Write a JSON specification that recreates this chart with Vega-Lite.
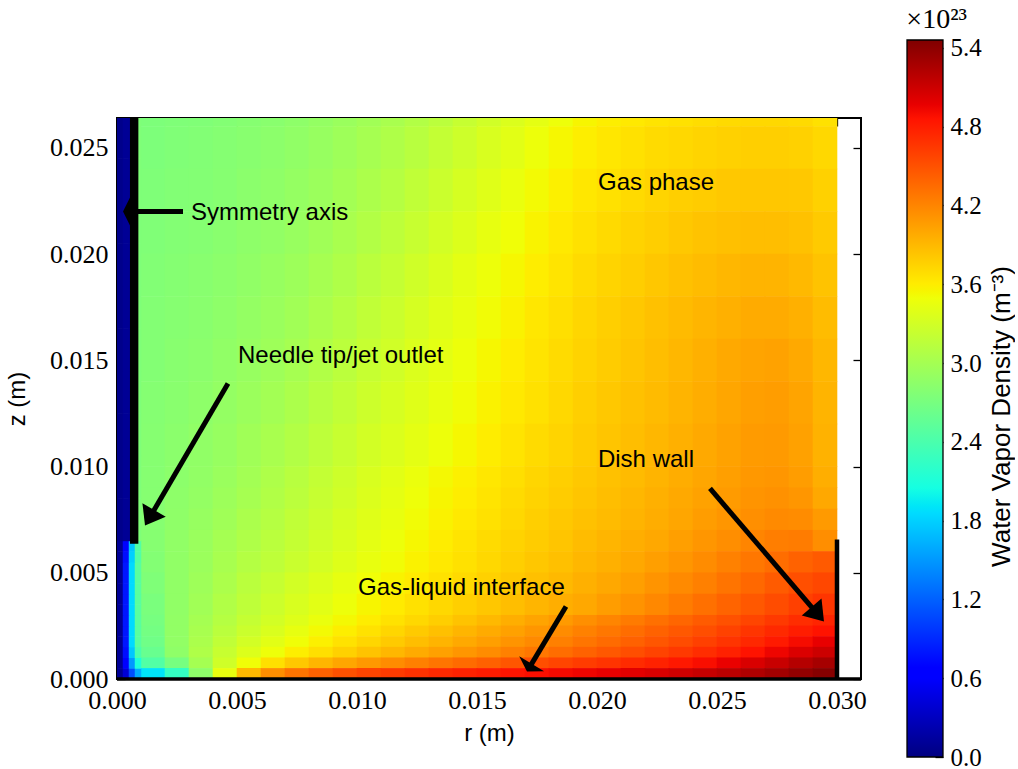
{
  "$schema": "https://vega.github.io/schema/vega-lite/v6.json",
  "background": "white",
  "padding": {"left": 4, "top": 5, "right": 0, "bottom": 0},
  "bounds": "flush",
  "center": true,
  "spacing": 46,
  "datasets": {
    "upper": [
      {"r":0.0015,"z":0.027,"d":2.74},{"r":0.0025,"z":0.027,"d":2.75},{"r":0.0035,"z":0.027,"d":2.76},{"r":0.0045,"z":0.027,"d":2.78},{"r":0.0055,"z":0.027,"d":2.80},{"r":0.0065,"z":0.027,"d":2.82},{"r":0.0075,"z":0.027,"d":2.85},{"r":0.0085,"z":0.027,"d":2.89},{"r":0.0095,"z":0.027,"d":2.93},{"r":0.0105,"z":0.027,"d":2.98},{"r":0.0115,"z":0.027,"d":3.03},{"r":0.0125,"z":0.027,"d":3.09},{"r":0.0135,"z":0.027,"d":3.15},{"r":0.0145,"z":0.027,"d":3.22},{"r":0.0155,"z":0.027,"d":3.29},{"r":0.0165,"z":0.027,"d":3.36},{"r":0.0175,"z":0.027,"d":3.43},{"r":0.0185,"z":0.027,"d":3.49},{"r":0.0195,"z":0.027,"d":3.55},{"r":0.0205,"z":0.027,"d":3.59},{"r":0.0215,"z":0.027,"d":3.62},{"r":0.0225,"z":0.027,"d":3.65},{"r":0.0235,"z":0.027,"d":3.67},{"r":0.0245,"z":0.027,"d":3.69},{"r":0.0255,"z":0.027,"d":3.71},{"r":0.0265,"z":0.027,"d":3.72},{"r":0.0275,"z":0.027,"d":3.72},{"r":0.0285,"z":0.027,"d":3.71},{"r":0.0295,"z":0.027,"d":3.67},
      {"r":0.0015,"z":0.025,"d":2.74},{"r":0.0025,"z":0.025,"d":2.76},{"r":0.0035,"z":0.025,"d":2.77},{"r":0.0045,"z":0.025,"d":2.79},{"r":0.0055,"z":0.025,"d":2.81},{"r":0.0065,"z":0.025,"d":2.84},{"r":0.0075,"z":0.025,"d":2.87},{"r":0.0085,"z":0.025,"d":2.91},{"r":0.0095,"z":0.025,"d":2.96},{"r":0.0105,"z":0.025,"d":3.01},{"r":0.0115,"z":0.025,"d":3.07},{"r":0.0125,"z":0.025,"d":3.13},{"r":0.0135,"z":0.025,"d":3.20},{"r":0.0145,"z":0.025,"d":3.27},{"r":0.0155,"z":0.025,"d":3.34},{"r":0.0165,"z":0.025,"d":3.41},{"r":0.0175,"z":0.025,"d":3.48},{"r":0.0185,"z":0.025,"d":3.54},{"r":0.0195,"z":0.025,"d":3.59},{"r":0.0205,"z":0.025,"d":3.63},{"r":0.0215,"z":0.025,"d":3.67},{"r":0.0225,"z":0.025,"d":3.70},{"r":0.0235,"z":0.025,"d":3.72},{"r":0.0245,"z":0.025,"d":3.74},{"r":0.0255,"z":0.025,"d":3.76},{"r":0.0265,"z":0.025,"d":3.77},{"r":0.0275,"z":0.025,"d":3.77},{"r":0.0285,"z":0.025,"d":3.76},{"r":0.0295,"z":0.025,"d":3.72},
      {"r":0.0015,"z":0.023,"d":2.75},{"r":0.0025,"z":0.023,"d":2.77},{"r":0.0035,"z":0.023,"d":2.78},{"r":0.0045,"z":0.023,"d":2.80},{"r":0.0055,"z":0.023,"d":2.83},{"r":0.0065,"z":0.023,"d":2.86},{"r":0.0075,"z":0.023,"d":2.90},{"r":0.0085,"z":0.023,"d":2.94},{"r":0.0095,"z":0.023,"d":2.99},{"r":0.0105,"z":0.023,"d":3.05},{"r":0.0115,"z":0.023,"d":3.11},{"r":0.0125,"z":0.023,"d":3.18},{"r":0.0135,"z":0.023,"d":3.25},{"r":0.0145,"z":0.023,"d":3.32},{"r":0.0155,"z":0.023,"d":3.39},{"r":0.0165,"z":0.023,"d":3.46},{"r":0.0175,"z":0.023,"d":3.52},{"r":0.0185,"z":0.023,"d":3.58},{"r":0.0195,"z":0.023,"d":3.63},{"r":0.0205,"z":0.023,"d":3.67},{"r":0.0215,"z":0.023,"d":3.71},{"r":0.0225,"z":0.023,"d":3.74},{"r":0.0235,"z":0.023,"d":3.77},{"r":0.0245,"z":0.023,"d":3.79},{"r":0.0255,"z":0.023,"d":3.81},{"r":0.0265,"z":0.023,"d":3.82},{"r":0.0275,"z":0.023,"d":3.82},{"r":0.0285,"z":0.023,"d":3.81},{"r":0.0295,"z":0.023,"d":3.76},
      {"r":0.0015,"z":0.021,"d":2.76},{"r":0.0025,"z":0.021,"d":2.78},{"r":0.0035,"z":0.021,"d":2.79},{"r":0.0045,"z":0.021,"d":2.82},{"r":0.0055,"z":0.021,"d":2.85},{"r":0.0065,"z":0.021,"d":2.88},{"r":0.0075,"z":0.021,"d":2.92},{"r":0.0085,"z":0.021,"d":2.97},{"r":0.0095,"z":0.021,"d":3.03},{"r":0.0105,"z":0.021,"d":3.09},{"r":0.0115,"z":0.021,"d":3.16},{"r":0.0125,"z":0.021,"d":3.23},{"r":0.0135,"z":0.021,"d":3.30},{"r":0.0145,"z":0.021,"d":3.37},{"r":0.0155,"z":0.021,"d":3.44},{"r":0.0165,"z":0.021,"d":3.50},{"r":0.0175,"z":0.021,"d":3.56},{"r":0.0185,"z":0.021,"d":3.62},{"r":0.0195,"z":0.021,"d":3.67},{"r":0.0205,"z":0.021,"d":3.71},{"r":0.0215,"z":0.021,"d":3.75},{"r":0.0225,"z":0.021,"d":3.78},{"r":0.0235,"z":0.021,"d":3.81},{"r":0.0245,"z":0.021,"d":3.84},{"r":0.0255,"z":0.021,"d":3.86},{"r":0.0265,"z":0.021,"d":3.87},{"r":0.0275,"z":0.021,"d":3.87},{"r":0.0285,"z":0.021,"d":3.85},{"r":0.0295,"z":0.021,"d":3.80},
      {"r":0.0015,"z":0.019,"d":2.77},{"r":0.0025,"z":0.019,"d":2.79},{"r":0.0035,"z":0.019,"d":2.81},{"r":0.0045,"z":0.019,"d":2.84},{"r":0.0055,"z":0.019,"d":2.87},{"r":0.0065,"z":0.019,"d":2.91},{"r":0.0075,"z":0.019,"d":2.95},{"r":0.0085,"z":0.019,"d":3.01},{"r":0.0095,"z":0.019,"d":3.07},{"r":0.0105,"z":0.019,"d":3.14},{"r":0.0115,"z":0.019,"d":3.21},{"r":0.0125,"z":0.019,"d":3.28},{"r":0.0135,"z":0.019,"d":3.35},{"r":0.0145,"z":0.019,"d":3.42},{"r":0.0155,"z":0.019,"d":3.48},{"r":0.0165,"z":0.019,"d":3.54},{"r":0.0175,"z":0.019,"d":3.60},{"r":0.0185,"z":0.019,"d":3.65},{"r":0.0195,"z":0.019,"d":3.70},{"r":0.0205,"z":0.019,"d":3.74},{"r":0.0215,"z":0.019,"d":3.78},{"r":0.0225,"z":0.019,"d":3.82},{"r":0.0235,"z":0.019,"d":3.85},{"r":0.0245,"z":0.019,"d":3.88},{"r":0.0255,"z":0.019,"d":3.91},{"r":0.0265,"z":0.019,"d":3.93},{"r":0.0275,"z":0.019,"d":3.93},{"r":0.0285,"z":0.019,"d":3.90},{"r":0.0295,"z":0.019,"d":3.84},
      {"r":0.0015,"z":0.017,"d":2.78},{"r":0.0025,"z":0.017,"d":2.80},{"r":0.0035,"z":0.017,"d":2.82},{"r":0.0045,"z":0.017,"d":2.85},{"r":0.0055,"z":0.017,"d":2.89},{"r":0.0065,"z":0.017,"d":2.93},{"r":0.0075,"z":0.017,"d":2.98},{"r":0.0085,"z":0.017,"d":3.04},{"r":0.0095,"z":0.017,"d":3.11},{"r":0.0105,"z":0.017,"d":3.18},{"r":0.0115,"z":0.017,"d":3.25},{"r":0.0125,"z":0.017,"d":3.32},{"r":0.0135,"z":0.017,"d":3.39},{"r":0.0145,"z":0.017,"d":3.45},{"r":0.0155,"z":0.017,"d":3.51},{"r":0.0165,"z":0.017,"d":3.57},{"r":0.0175,"z":0.017,"d":3.63},{"r":0.0185,"z":0.017,"d":3.68},{"r":0.0195,"z":0.017,"d":3.73},{"r":0.0205,"z":0.017,"d":3.77},{"r":0.0215,"z":0.017,"d":3.81},{"r":0.0225,"z":0.017,"d":3.85},{"r":0.0235,"z":0.017,"d":3.89},{"r":0.0245,"z":0.017,"d":3.92},{"r":0.0255,"z":0.017,"d":3.95},{"r":0.0265,"z":0.017,"d":3.98},{"r":0.0275,"z":0.017,"d":3.98},{"r":0.0285,"z":0.017,"d":3.95},{"r":0.0295,"z":0.017,"d":3.88},
      {"r":0.0015,"z":0.015,"d":2.78},{"r":0.0025,"z":0.015,"d":2.81},{"r":0.0035,"z":0.015,"d":2.83},{"r":0.0045,"z":0.015,"d":2.87},{"r":0.0055,"z":0.015,"d":2.91},{"r":0.0065,"z":0.015,"d":2.96},{"r":0.0075,"z":0.015,"d":3.01},{"r":0.0085,"z":0.015,"d":3.08},{"r":0.0095,"z":0.015,"d":3.15},{"r":0.0105,"z":0.015,"d":3.22},{"r":0.0115,"z":0.015,"d":3.29},{"r":0.0125,"z":0.015,"d":3.36},{"r":0.0135,"z":0.015,"d":3.42},{"r":0.0145,"z":0.015,"d":3.48},{"r":0.0155,"z":0.015,"d":3.54},{"r":0.0165,"z":0.015,"d":3.60},{"r":0.0175,"z":0.015,"d":3.65},{"r":0.0185,"z":0.015,"d":3.70},{"r":0.0195,"z":0.015,"d":3.75},{"r":0.0205,"z":0.015,"d":3.79},{"r":0.0215,"z":0.015,"d":3.83},{"r":0.0225,"z":0.015,"d":3.87},{"r":0.0235,"z":0.015,"d":3.91},{"r":0.0245,"z":0.015,"d":3.95},{"r":0.0255,"z":0.015,"d":3.99},{"r":0.0265,"z":0.015,"d":4.02},{"r":0.0275,"z":0.015,"d":4.03},{"r":0.0285,"z":0.015,"d":3.99},{"r":0.0295,"z":0.015,"d":3.91},
      {"r":0.0015,"z":0.013,"d":2.79},{"r":0.0025,"z":0.013,"d":2.82},{"r":0.0035,"z":0.013,"d":2.85},{"r":0.0045,"z":0.013,"d":2.89},{"r":0.0055,"z":0.013,"d":2.94},{"r":0.0065,"z":0.013,"d":2.99},{"r":0.0075,"z":0.013,"d":3.05},{"r":0.0085,"z":0.013,"d":3.12},{"r":0.0095,"z":0.013,"d":3.19},{"r":0.0105,"z":0.013,"d":3.26},{"r":0.0115,"z":0.013,"d":3.33},{"r":0.0125,"z":0.013,"d":3.39},{"r":0.0135,"z":0.013,"d":3.45},{"r":0.0145,"z":0.013,"d":3.51},{"r":0.0155,"z":0.013,"d":3.57},{"r":0.0165,"z":0.013,"d":3.62},{"r":0.0175,"z":0.013,"d":3.67},{"r":0.0185,"z":0.013,"d":3.72},{"r":0.0195,"z":0.013,"d":3.77},{"r":0.0205,"z":0.013,"d":3.81},{"r":0.0215,"z":0.013,"d":3.85},{"r":0.0225,"z":0.013,"d":3.89},{"r":0.0235,"z":0.013,"d":3.93},{"r":0.0245,"z":0.013,"d":3.97},{"r":0.0255,"z":0.013,"d":4.01},{"r":0.0265,"z":0.013,"d":4.05},{"r":0.0275,"z":0.013,"d":4.06},{"r":0.0285,"z":0.013,"d":4.02},{"r":0.0295,"z":0.013,"d":3.93},
      {"r":0.0015,"z":0.011,"d":2.80},{"r":0.0025,"z":0.011,"d":2.83},{"r":0.0035,"z":0.011,"d":2.87},{"r":0.0045,"z":0.011,"d":2.91},{"r":0.0055,"z":0.011,"d":2.97},{"r":0.0065,"z":0.011,"d":3.03},{"r":0.0075,"z":0.011,"d":3.09},{"r":0.0085,"z":0.011,"d":3.16},{"r":0.0095,"z":0.011,"d":3.23},{"r":0.0105,"z":0.011,"d":3.30},{"r":0.0115,"z":0.011,"d":3.36},{"r":0.0125,"z":0.011,"d":3.42},{"r":0.0135,"z":0.011,"d":3.48},{"r":0.0145,"z":0.011,"d":3.54},{"r":0.0155,"z":0.011,"d":3.60},{"r":0.0165,"z":0.011,"d":3.65},{"r":0.0175,"z":0.011,"d":3.70},{"r":0.0185,"z":0.011,"d":3.74},{"r":0.0195,"z":0.011,"d":3.79},{"r":0.0205,"z":0.011,"d":3.83},{"r":0.0215,"z":0.011,"d":3.87},{"r":0.0225,"z":0.011,"d":3.91},{"r":0.0235,"z":0.011,"d":3.95},{"r":0.0245,"z":0.011,"d":3.99},{"r":0.0255,"z":0.011,"d":4.03},{"r":0.0265,"z":0.011,"d":4.07},{"r":0.0275,"z":0.011,"d":4.08},{"r":0.0285,"z":0.011,"d":4.04},{"r":0.0295,"z":0.011,"d":3.94}
    ],
    "middle": [
      {"r":0.0015,"z":0.0095,"d":2.80},{"r":0.0025,"z":0.0095,"d":2.84},{"r":0.0035,"z":0.0095,"d":2.88},{"r":0.0045,"z":0.0095,"d":2.93},{"r":0.0055,"z":0.0095,"d":2.99},{"r":0.0065,"z":0.0095,"d":3.06},{"r":0.0075,"z":0.0095,"d":3.13},{"r":0.0085,"z":0.0095,"d":3.20},{"r":0.0095,"z":0.0095,"d":3.27},{"r":0.0105,"z":0.0095,"d":3.34},{"r":0.0115,"z":0.0095,"d":3.41},{"r":0.0125,"z":0.0095,"d":3.47},{"r":0.0135,"z":0.0095,"d":3.53},{"r":0.0145,"z":0.0095,"d":3.58},{"r":0.0155,"z":0.0095,"d":3.63},{"r":0.0165,"z":0.0095,"d":3.68},{"r":0.0175,"z":0.0095,"d":3.73},{"r":0.0185,"z":0.0095,"d":3.77},{"r":0.0195,"z":0.0095,"d":3.81},{"r":0.0205,"z":0.0095,"d":3.85},{"r":0.0215,"z":0.0095,"d":3.89},{"r":0.0225,"z":0.0095,"d":3.93},{"r":0.0235,"z":0.0095,"d":3.97},{"r":0.0245,"z":0.0095,"d":4.01},{"r":0.0255,"z":0.0095,"d":4.05},{"r":0.0265,"z":0.0095,"d":4.09},{"r":0.0275,"z":0.0095,"d":4.10},{"r":0.0285,"z":0.0095,"d":4.06},{"r":0.0295,"z":0.0095,"d":3.96},
      {"r":0.0015,"z":0.0085,"d":2.80},{"r":0.0025,"z":0.0085,"d":2.85},{"r":0.0035,"z":0.0085,"d":2.89},{"r":0.0045,"z":0.0085,"d":2.95},{"r":0.0055,"z":0.0085,"d":3.01},{"r":0.0065,"z":0.0085,"d":3.08},{"r":0.0075,"z":0.0085,"d":3.15},{"r":0.0085,"z":0.0085,"d":3.22},{"r":0.0095,"z":0.0085,"d":3.29},{"r":0.0105,"z":0.0085,"d":3.36},{"r":0.0115,"z":0.0085,"d":3.43},{"r":0.0125,"z":0.0085,"d":3.49},{"r":0.0135,"z":0.0085,"d":3.55},{"r":0.0145,"z":0.0085,"d":3.60},{"r":0.0155,"z":0.0085,"d":3.65},{"r":0.0165,"z":0.0085,"d":3.70},{"r":0.0175,"z":0.0085,"d":3.75},{"r":0.0185,"z":0.0085,"d":3.79},{"r":0.0195,"z":0.0085,"d":3.83},{"r":0.0205,"z":0.0085,"d":3.87},{"r":0.0215,"z":0.0085,"d":3.91},{"r":0.0225,"z":0.0085,"d":3.95},{"r":0.0235,"z":0.0085,"d":3.99},{"r":0.0245,"z":0.0085,"d":4.03},{"r":0.0255,"z":0.0085,"d":4.07},{"r":0.0265,"z":0.0085,"d":4.11},{"r":0.0275,"z":0.0085,"d":4.13},{"r":0.0285,"z":0.0085,"d":4.10},{"r":0.0295,"z":0.0085,"d":4.00},
      {"r":0.0015,"z":0.0075,"d":2.80},{"r":0.0025,"z":0.0075,"d":2.86},{"r":0.0035,"z":0.0075,"d":2.91},{"r":0.0045,"z":0.0075,"d":2.97},{"r":0.0055,"z":0.0075,"d":3.04},{"r":0.0065,"z":0.0075,"d":3.11},{"r":0.0075,"z":0.0075,"d":3.18},{"r":0.0085,"z":0.0075,"d":3.25},{"r":0.0095,"z":0.0075,"d":3.32},{"r":0.0105,"z":0.0075,"d":3.39},{"r":0.0115,"z":0.0075,"d":3.45},{"r":0.0125,"z":0.0075,"d":3.51},{"r":0.0135,"z":0.0075,"d":3.57},{"r":0.0145,"z":0.0075,"d":3.62},{"r":0.0155,"z":0.0075,"d":3.67},{"r":0.0165,"z":0.0075,"d":3.72},{"r":0.0175,"z":0.0075,"d":3.77},{"r":0.0185,"z":0.0075,"d":3.81},{"r":0.0195,"z":0.0075,"d":3.85},{"r":0.0205,"z":0.0075,"d":3.89},{"r":0.0215,"z":0.0075,"d":3.93},{"r":0.0225,"z":0.0075,"d":3.97},{"r":0.0235,"z":0.0075,"d":4.01},{"r":0.0245,"z":0.0075,"d":4.06},{"r":0.0255,"z":0.0075,"d":4.10},{"r":0.0265,"z":0.0075,"d":4.14},{"r":0.0275,"z":0.0075,"d":4.17},{"r":0.0285,"z":0.0075,"d":4.16},{"r":0.0295,"z":0.0075,"d":4.08},
      {"r":0.0015,"z":0.0065,"d":2.80},{"r":0.0025,"z":0.0065,"d":2.87},{"r":0.0035,"z":0.0065,"d":2.93},{"r":0.0045,"z":0.0065,"d":3.00},{"r":0.0055,"z":0.0065,"d":3.07},{"r":0.0065,"z":0.0065,"d":3.14},{"r":0.0075,"z":0.0065,"d":3.21},{"r":0.0085,"z":0.0065,"d":3.28},{"r":0.0095,"z":0.0065,"d":3.35},{"r":0.0105,"z":0.0065,"d":3.42},{"r":0.0115,"z":0.0065,"d":3.48},{"r":0.0125,"z":0.0065,"d":3.54},{"r":0.0135,"z":0.0065,"d":3.60},{"r":0.0145,"z":0.0065,"d":3.65},{"r":0.0155,"z":0.0065,"d":3.70},{"r":0.0165,"z":0.0065,"d":3.75},{"r":0.0175,"z":0.0065,"d":3.79},{"r":0.0185,"z":0.0065,"d":3.83},{"r":0.0195,"z":0.0065,"d":3.88},{"r":0.0205,"z":0.0065,"d":3.92},{"r":0.0215,"z":0.0065,"d":3.96},{"r":0.0225,"z":0.0065,"d":4.00},{"r":0.0235,"z":0.0065,"d":4.05},{"r":0.0245,"z":0.0065,"d":4.10},{"r":0.0255,"z":0.0065,"d":4.15},{"r":0.0265,"z":0.0065,"d":4.20},{"r":0.0275,"z":0.0065,"d":4.24},{"r":0.0285,"z":0.0065,"d":4.25},{"r":0.0295,"z":0.0065,"d":4.15},
      {"r":0.0015,"z":0.0055,"d":2.78},{"r":0.0025,"z":0.0055,"d":2.87},{"r":0.0035,"z":0.0055,"d":2.94},{"r":0.0045,"z":0.0055,"d":3.02},{"r":0.0055,"z":0.0055,"d":3.10},{"r":0.0065,"z":0.0055,"d":3.17},{"r":0.0075,"z":0.0055,"d":3.24},{"r":0.0085,"z":0.0055,"d":3.31},{"r":0.0095,"z":0.0055,"d":3.38},{"r":0.0105,"z":0.0055,"d":3.45},{"r":0.0115,"z":0.0055,"d":3.51},{"r":0.0125,"z":0.0055,"d":3.57},{"r":0.0135,"z":0.0055,"d":3.62},{"r":0.0145,"z":0.0055,"d":3.67},{"r":0.0155,"z":0.0055,"d":3.72},{"r":0.0165,"z":0.0055,"d":3.77},{"r":0.0175,"z":0.0055,"d":3.82},{"r":0.0185,"z":0.0055,"d":3.86},{"r":0.0195,"z":0.0055,"d":3.91},{"r":0.0205,"z":0.0055,"d":3.95},{"r":0.0215,"z":0.0055,"d":4.00},{"r":0.0225,"z":0.0055,"d":4.05},{"r":0.0235,"z":0.0055,"d":4.10},{"r":0.0245,"z":0.0055,"d":4.16},{"r":0.0255,"z":0.0055,"d":4.22},{"r":0.0265,"z":0.0055,"d":4.28},{"r":0.0275,"z":0.0055,"d":4.34},{"r":0.0285,"z":0.0055,"d":4.40},{"r":0.0295,"z":0.0055,"d":4.45},
      {"r":0.0015,"z":0.0045,"d":2.75},{"r":0.0025,"z":0.0045,"d":2.87},{"r":0.0035,"z":0.0045,"d":2.96},{"r":0.0045,"z":0.0045,"d":3.05},{"r":0.0055,"z":0.0045,"d":3.14},{"r":0.0065,"z":0.0045,"d":3.22},{"r":0.0075,"z":0.0045,"d":3.30},{"r":0.0085,"z":0.0045,"d":3.37},{"r":0.0095,"z":0.0045,"d":3.44},{"r":0.0105,"z":0.0045,"d":3.50},{"r":0.0115,"z":0.0045,"d":3.56},{"r":0.0125,"z":0.0045,"d":3.61},{"r":0.0135,"z":0.0045,"d":3.66},{"r":0.0145,"z":0.0045,"d":3.71},{"r":0.0155,"z":0.0045,"d":3.76},{"r":0.0165,"z":0.0045,"d":3.81},{"r":0.0175,"z":0.0045,"d":3.86},{"r":0.0185,"z":0.0045,"d":3.90},{"r":0.0195,"z":0.0045,"d":3.95},{"r":0.0205,"z":0.0045,"d":4.00},{"r":0.0215,"z":0.0045,"d":4.05},{"r":0.0225,"z":0.0045,"d":4.11},{"r":0.0235,"z":0.0045,"d":4.17},{"r":0.0245,"z":0.0045,"d":4.23},{"r":0.0255,"z":0.0045,"d":4.30},{"r":0.0265,"z":0.0045,"d":4.37},{"r":0.0275,"z":0.0045,"d":4.44},{"r":0.0285,"z":0.0045,"d":4.51},{"r":0.0295,"z":0.0045,"d":4.56},
      {"r":0.0015,"z":0.0035,"d":2.72},{"r":0.0025,"z":0.0035,"d":2.87},{"r":0.0035,"z":0.0035,"d":2.98},{"r":0.0045,"z":0.0035,"d":3.08},{"r":0.0055,"z":0.0035,"d":3.17},{"r":0.0065,"z":0.0035,"d":3.26},{"r":0.0075,"z":0.0035,"d":3.34},{"r":0.0085,"z":0.0035,"d":3.41},{"r":0.0095,"z":0.0035,"d":3.48},{"r":0.0105,"z":0.0035,"d":3.55},{"r":0.0115,"z":0.0035,"d":3.61},{"r":0.0125,"z":0.0035,"d":3.67},{"r":0.0135,"z":0.0035,"d":3.72},{"r":0.0145,"z":0.0035,"d":3.77},{"r":0.0155,"z":0.0035,"d":3.82},{"r":0.0165,"z":0.0035,"d":3.87},{"r":0.0175,"z":0.0035,"d":3.92},{"r":0.0185,"z":0.0035,"d":3.96},{"r":0.0195,"z":0.0035,"d":4.00},{"r":0.0205,"z":0.0035,"d":4.06},{"r":0.0215,"z":0.0035,"d":4.12},{"r":0.0225,"z":0.0035,"d":4.18},{"r":0.0235,"z":0.0035,"d":4.25},{"r":0.0245,"z":0.0035,"d":4.32},{"r":0.0255,"z":0.0035,"d":4.39},{"r":0.0265,"z":0.0035,"d":4.46},{"r":0.0275,"z":0.0035,"d":4.53},{"r":0.0285,"z":0.0035,"d":4.60},{"r":0.0295,"z":0.0035,"d":4.66}
    ],
    "lower": [
      {"r":0.0015,"z":0.00275,"d":2.70},{"r":0.0025,"z":0.00275,"d":2.88},{"r":0.0035,"z":0.00275,"d":3.00},{"r":0.0045,"z":0.00275,"d":3.11},{"r":0.0055,"z":0.00275,"d":3.21},{"r":0.0065,"z":0.00275,"d":3.30},{"r":0.0075,"z":0.00275,"d":3.38},{"r":0.0085,"z":0.00275,"d":3.46},{"r":0.0095,"z":0.00275,"d":3.53},{"r":0.0105,"z":0.00275,"d":3.60},{"r":0.0115,"z":0.00275,"d":3.66},{"r":0.0125,"z":0.00275,"d":3.72},{"r":0.0135,"z":0.00275,"d":3.78},{"r":0.0145,"z":0.00275,"d":3.84},{"r":0.0155,"z":0.00275,"d":3.90},{"r":0.0165,"z":0.00275,"d":3.96},{"r":0.0175,"z":0.00275,"d":4.02},{"r":0.0185,"z":0.00275,"d":4.08},{"r":0.0195,"z":0.00275,"d":4.14},{"r":0.0205,"z":0.00275,"d":4.20},{"r":0.0215,"z":0.00275,"d":4.26},{"r":0.0225,"z":0.00275,"d":4.32},{"r":0.0235,"z":0.00275,"d":4.38},{"r":0.0245,"z":0.00275,"d":4.44},{"r":0.0255,"z":0.00275,"d":4.50},{"r":0.0265,"z":0.00275,"d":4.57},{"r":0.0275,"z":0.00275,"d":4.64},{"r":0.0285,"z":0.00275,"d":4.71},{"r":0.0295,"z":0.00275,"d":4.76},
      {"r":0.0015,"z":0.00225,"d":2.68},{"r":0.0025,"z":0.00225,"d":2.88},{"r":0.0035,"z":0.00225,"d":3.02},{"r":0.0045,"z":0.00225,"d":3.14},{"r":0.0055,"z":0.00225,"d":3.25},{"r":0.0065,"z":0.00225,"d":3.35},{"r":0.0075,"z":0.00225,"d":3.44},{"r":0.0085,"z":0.00225,"d":3.52},{"r":0.0095,"z":0.00225,"d":3.59},{"r":0.0105,"z":0.00225,"d":3.66},{"r":0.0115,"z":0.00225,"d":3.73},{"r":0.0125,"z":0.00225,"d":3.80},{"r":0.0135,"z":0.00225,"d":3.86},{"r":0.0145,"z":0.00225,"d":3.92},{"r":0.0155,"z":0.00225,"d":3.98},{"r":0.0165,"z":0.00225,"d":4.04},{"r":0.0175,"z":0.00225,"d":4.10},{"r":0.0185,"z":0.00225,"d":4.16},{"r":0.0195,"z":0.00225,"d":4.22},{"r":0.0205,"z":0.00225,"d":4.28},{"r":0.0215,"z":0.00225,"d":4.34},{"r":0.0225,"z":0.00225,"d":4.40},{"r":0.0235,"z":0.00225,"d":4.46},{"r":0.0245,"z":0.00225,"d":4.52},{"r":0.0255,"z":0.00225,"d":4.59},{"r":0.0265,"z":0.00225,"d":4.66},{"r":0.0275,"z":0.00225,"d":4.73},{"r":0.0285,"z":0.00225,"d":4.80},{"r":0.0295,"z":0.00225,"d":4.86},
      {"r":0.0015,"z":0.00175,"d":2.65},{"r":0.0025,"z":0.00175,"d":2.88},{"r":0.0035,"z":0.00175,"d":3.04},{"r":0.0045,"z":0.00175,"d":3.18},{"r":0.0055,"z":0.00175,"d":3.30},{"r":0.0065,"z":0.00175,"d":3.41},{"r":0.0075,"z":0.00175,"d":3.50},{"r":0.0085,"z":0.00175,"d":3.58},{"r":0.0095,"z":0.00175,"d":3.66},{"r":0.0105,"z":0.00175,"d":3.73},{"r":0.0115,"z":0.00175,"d":3.80},{"r":0.0125,"z":0.00175,"d":3.87},{"r":0.0135,"z":0.00175,"d":3.93},{"r":0.0145,"z":0.00175,"d":3.99},{"r":0.0155,"z":0.00175,"d":4.05},{"r":0.0165,"z":0.00175,"d":4.11},{"r":0.0175,"z":0.00175,"d":4.17},{"r":0.0185,"z":0.00175,"d":4.23},{"r":0.0195,"z":0.00175,"d":4.29},{"r":0.0205,"z":0.00175,"d":4.35},{"r":0.0215,"z":0.00175,"d":4.41},{"r":0.0225,"z":0.00175,"d":4.47},{"r":0.0235,"z":0.00175,"d":4.53},{"r":0.0245,"z":0.00175,"d":4.60},{"r":0.0255,"z":0.00175,"d":4.67},{"r":0.0265,"z":0.00175,"d":4.74},{"r":0.0275,"z":0.00175,"d":4.82},{"r":0.0285,"z":0.00175,"d":4.90},{"r":0.0295,"z":0.00175,"d":4.97},
      {"r":0.0015,"z":0.00125,"d":2.60},{"r":0.0025,"z":0.00125,"d":2.86},{"r":0.0035,"z":0.00125,"d":3.07},{"r":0.0045,"z":0.00125,"d":3.23},{"r":0.0055,"z":0.00125,"d":3.37},{"r":0.0065,"z":0.00125,"d":3.49},{"r":0.0075,"z":0.00125,"d":3.59},{"r":0.0085,"z":0.00125,"d":3.68},{"r":0.0095,"z":0.00125,"d":3.76},{"r":0.0105,"z":0.00125,"d":3.84},{"r":0.0115,"z":0.00125,"d":3.91},{"r":0.0125,"z":0.00125,"d":3.98},{"r":0.0135,"z":0.00125,"d":4.04},{"r":0.0145,"z":0.00125,"d":4.10},{"r":0.0155,"z":0.00125,"d":4.16},{"r":0.0165,"z":0.00125,"d":4.22},{"r":0.0175,"z":0.00125,"d":4.28},{"r":0.0185,"z":0.00125,"d":4.34},{"r":0.0195,"z":0.00125,"d":4.40},{"r":0.0205,"z":0.00125,"d":4.46},{"r":0.0215,"z":0.00125,"d":4.52},{"r":0.0225,"z":0.00125,"d":4.58},{"r":0.0235,"z":0.00125,"d":4.64},{"r":0.0245,"z":0.00125,"d":4.71},{"r":0.0255,"z":0.00125,"d":4.78},{"r":0.0265,"z":0.00125,"d":4.86},{"r":0.0275,"z":0.00125,"d":4.94},{"r":0.0285,"z":0.00125,"d":5.03},{"r":0.0295,"z":0.00125,"d":5.10},
      {"r":0.0015,"z":0.00075,"d":2.45},{"r":0.0025,"z":0.00075,"d":2.70},{"r":0.0035,"z":0.00075,"d":3.00},{"r":0.0045,"z":0.00075,"d":3.28},{"r":0.0055,"z":0.00075,"d":3.50},{"r":0.0065,"z":0.00075,"d":3.68},{"r":0.0075,"z":0.00075,"d":3.81},{"r":0.0085,"z":0.00075,"d":3.92},{"r":0.0095,"z":0.00075,"d":4.01},{"r":0.0105,"z":0.00075,"d":4.09},{"r":0.0115,"z":0.00075,"d":4.16},{"r":0.0125,"z":0.00075,"d":4.23},{"r":0.0135,"z":0.00075,"d":4.29},{"r":0.0145,"z":0.00075,"d":4.35},{"r":0.0155,"z":0.00075,"d":4.41},{"r":0.0165,"z":0.00075,"d":4.47},{"r":0.0175,"z":0.00075,"d":4.52},{"r":0.0185,"z":0.00075,"d":4.57},{"r":0.0195,"z":0.00075,"d":4.62},{"r":0.0205,"z":0.00075,"d":4.67},{"r":0.0215,"z":0.00075,"d":4.72},{"r":0.0225,"z":0.00075,"d":4.77},{"r":0.0235,"z":0.00075,"d":4.83},{"r":0.0245,"z":0.00075,"d":4.89},{"r":0.0255,"z":0.00075,"d":4.96},{"r":0.0265,"z":0.00075,"d":5.04},{"r":0.0275,"z":0.00075,"d":5.12},{"r":0.0285,"z":0.00075,"d":5.21},{"r":0.0295,"z":0.00075,"d":5.28},
      {"r":0.0015,"z":0.00025,"d":1.90},{"r":0.0025,"z":0.00025,"d":2.25},{"r":0.0035,"z":0.00025,"d":2.85},{"r":0.0045,"z":0.00025,"d":3.45},{"r":0.0055,"z":0.00025,"d":3.90},{"r":0.0065,"z":0.00025,"d":4.15},{"r":0.0075,"z":0.00025,"d":4.30},{"r":0.0085,"z":0.00025,"d":4.41},{"r":0.0095,"z":0.00025,"d":4.50},{"r":0.0105,"z":0.00025,"d":4.57},{"r":0.0115,"z":0.00025,"d":4.63},{"r":0.0125,"z":0.00025,"d":4.68},{"r":0.0135,"z":0.00025,"d":4.73},{"r":0.0145,"z":0.00025,"d":4.77},{"r":0.0155,"z":0.00025,"d":4.81},{"r":0.0165,"z":0.00025,"d":4.85},{"r":0.0175,"z":0.00025,"d":4.88},{"r":0.0185,"z":0.00025,"d":4.91},{"r":0.0195,"z":0.00025,"d":4.94},{"r":0.0205,"z":0.00025,"d":4.97},{"r":0.0215,"z":0.00025,"d":5.00},{"r":0.0225,"z":0.00025,"d":5.04},{"r":0.0235,"z":0.00025,"d":5.08},{"r":0.0245,"z":0.00025,"d":5.13},{"r":0.0255,"z":0.00025,"d":5.18},{"r":0.0265,"z":0.00025,"d":5.24},{"r":0.0275,"z":0.00025,"d":5.30},{"r":0.0285,"z":0.00025,"d":5.37},{"r":0.0295,"z":0.00025,"d":5.43}
    ],
    "axisLow": [
      {"r":0.000125,"z":0.00025,"d":0.10},{"r":0.000375,"z":0.00025,"d":0.40},{"r":0.000625,"z":0.00025,"d":1.10},{"r":0.000875,"z":0.00025,"d":1.60},
      {"r":0.000125,"z":0.00075,"d":0.10},{"r":0.000375,"z":0.00075,"d":0.60},{"r":0.000625,"z":0.00075,"d":1.50},{"r":0.000875,"z":0.00075,"d":2.10},
      {"r":0.000125,"z":0.00125,"d":0.10},{"r":0.000375,"z":0.00125,"d":0.75},{"r":0.000625,"z":0.00125,"d":1.75},{"r":0.000875,"z":0.00125,"d":2.40},
      {"r":0.000125,"z":0.00175,"d":0.10},{"r":0.000375,"z":0.00175,"d":0.80},{"r":0.000625,"z":0.00175,"d":1.85},{"r":0.000875,"z":0.00175,"d":2.50},
      {"r":0.000125,"z":0.00225,"d":0.10},{"r":0.000375,"z":0.00225,"d":0.80},{"r":0.000625,"z":0.00225,"d":1.85},{"r":0.000875,"z":0.00225,"d":2.50},
      {"r":0.000125,"z":0.00275,"d":0.10},{"r":0.000375,"z":0.00275,"d":0.80},{"r":0.000625,"z":0.00275,"d":1.85},{"r":0.000875,"z":0.00275,"d":2.50},
      {"r":0.000125,"z":0.00325,"d":0.10},{"r":0.000375,"z":0.00325,"d":0.80},{"r":0.000625,"z":0.00325,"d":1.85},{"r":0.000875,"z":0.00325,"d":2.50},
      {"r":0.000125,"z":0.00375,"d":0.10},{"r":0.000375,"z":0.00375,"d":0.80},{"r":0.000625,"z":0.00375,"d":1.85},{"r":0.000875,"z":0.00375,"d":2.50},
      {"r":0.000125,"z":0.00425,"d":0.10},{"r":0.000375,"z":0.00425,"d":0.80},{"r":0.000625,"z":0.00425,"d":1.85},{"r":0.000875,"z":0.00425,"d":2.50},
      {"r":0.000125,"z":0.00475,"d":0.10},{"r":0.000375,"z":0.00475,"d":0.80},{"r":0.000625,"z":0.00475,"d":1.85},{"r":0.000875,"z":0.00475,"d":2.50},
      {"r":0.000125,"z":0.00525,"d":0.10},{"r":0.000375,"z":0.00525,"d":0.80},{"r":0.000625,"z":0.00525,"d":1.85},{"r":0.000875,"z":0.00525,"d":2.50},
      {"r":0.000125,"z":0.00575,"d":0.10},{"r":0.000375,"z":0.00575,"d":0.75},{"r":0.000625,"z":0.00575,"d":1.80},{"r":0.000875,"z":0.00575,"d":2.45},
      {"r":0.000125,"z":0.00625,"d":0.10},{"r":0.000375,"z":0.00625,"d":0.70},{"r":0.000625,"z":0.00625,"d":1.75},{"r":0.000875,"z":0.00625,"d":2.45}
    ],
    "axisHigh": [
      {"r":0.000125,"z":0.0075,"d":0.05},{"r":0.000375,"z":0.0075,"d":0.10},{"r":0.000625,"z":0.0075,"d":0.10},{"r":0.000875,"z":0.0075,"d":2.75},
      {"r":0.000125,"z":0.0095,"d":0.05},{"r":0.000375,"z":0.0095,"d":0.10},{"r":0.000625,"z":0.0095,"d":0.10},{"r":0.000875,"z":0.0095,"d":2.75},
      {"r":0.000125,"z":0.0115,"d":0.05},{"r":0.000375,"z":0.0115,"d":0.10},{"r":0.000625,"z":0.0115,"d":0.10},{"r":0.000875,"z":0.0115,"d":2.75},
      {"r":0.000125,"z":0.0135,"d":0.05},{"r":0.000375,"z":0.0135,"d":0.10},{"r":0.000625,"z":0.0135,"d":0.10},{"r":0.000875,"z":0.0135,"d":2.75},
      {"r":0.000125,"z":0.0155,"d":0.05},{"r":0.000375,"z":0.0155,"d":0.10},{"r":0.000625,"z":0.0155,"d":0.10},{"r":0.000875,"z":0.0155,"d":2.75},
      {"r":0.000125,"z":0.0175,"d":0.05},{"r":0.000375,"z":0.0175,"d":0.10},{"r":0.000625,"z":0.0175,"d":0.10},{"r":0.000875,"z":0.0175,"d":2.75},
      {"r":0.000125,"z":0.0195,"d":0.05},{"r":0.000375,"z":0.0195,"d":0.10},{"r":0.000625,"z":0.0195,"d":0.10},{"r":0.000875,"z":0.0195,"d":2.75},
      {"r":0.000125,"z":0.0215,"d":0.05},{"r":0.000375,"z":0.0215,"d":0.10},{"r":0.000625,"z":0.0215,"d":0.10},{"r":0.000875,"z":0.0215,"d":2.75},
      {"r":0.000125,"z":0.0235,"d":0.05},{"r":0.000375,"z":0.0235,"d":0.10},{"r":0.000625,"z":0.0235,"d":0.10},{"r":0.000875,"z":0.0235,"d":2.75},
      {"r":0.000125,"z":0.0255,"d":0.05},{"r":0.000375,"z":0.0255,"d":0.10},{"r":0.000625,"z":0.0255,"d":0.10},{"r":0.000875,"z":0.0255,"d":2.75}
    ],
    "needle": [{"r":0.00054,"r2":0.00089,"z":0.00637,"z2":0.0264}],
    "wall": [{"r":0.030,"z":0,"z2":0.00657}],
    "interface": [{"r":0,"r2":0.031,"z":0}],
    "shafts": [
      {"label":"Symmetry axis","r":0.00275,"z":0.0220,"r2":0.0005,"z2":0.0220},
      {"label":"Needle tip/jet outlet","r":0.004625,"z":0.01391,"r2":0.001463,"z2":0.007793},
      {"label":"Dish wall","r":0.024708,"z":0.008965,"r2":0.02905,"z2":0.003242},
      {"label":"Gas-liquid interface","r":0.018708,"z":0.003412,"r2":0.017213,"z2":0.000593}
    ],
    "tips": [
      {"label":"Symmetry axis","r":0.00025,"z":0.0220},
      {"label":"Needle tip/jet outlet","r":0.001167,"z":0.007224},
      {"label":"Dish wall","r":0.029458,"z":0.002706},
      {"label":"Gas-liquid interface","r":0.017083,"z":0.000353}
    ],
    "labels": [
      {"label":"Symmetry axis","r":0.00308,"z":0.02162},
      {"label":"Needle tip/jet outlet","r":0.00504,"z":0.01485},
      {"label":"Gas phase","r":0.02004,"z":0.02299},
      {"label":"Dish wall","r":0.02004,"z":0.0100},
      {"label":"Gas-liquid interface","r":0.01004,"z":0.00393}
    ],
    "colorbar": [{"lo":0,"hi":5.46}]
  },
  "hconcat": [
    {
      "width": 744,
      "height": 561,
      "view": {"stroke": "black", "strokeWidth": 2},
      "encoding": {
        "x": {"field": "r", "type": "quantitative", "scale": {"domain": [0, 0.031], "nice": false, "zero": false}, "axis": null},
        "y": {"field": "z", "type": "quantitative", "scale": {"domain": [0, 0.0264], "nice": false, "zero": false}, "axis": null}
      },
      "layer": [
        {
          "data": {"name": "upper"},
          "mark": {"type": "rect", "width": 24.6, "height": 43.1, "clip": true},
          "encoding": {
            "x": {"field": "r", "type": "quantitative", "scale": {"domain": [0, 0.031], "nice": false, "zero": false},
              "axis": {"orient": "bottom", "values": [0, 0.005, 0.01, 0.015, 0.02, 0.025, 0.03], "format": ".3f", "title": "r (m)", "labelPadding": 16, "titlePadding": 8}},
            "y": {"field": "z", "type": "quantitative", "scale": {"domain": [0, 0.0264], "nice": false, "zero": false},
              "axis": {"orient": "left", "values": [0, 0.005, 0.01, 0.015, 0.02, 0.025], "format": ".3f", "title": "z (m)", "labelPadding": 17, "titlePadding": 20}},
            "color": {"field": "d", "type": "quantitative", "legend": null,
              "scale": {"domain": [0, 0.6006, 0.6825, 1.8564, 1.911, 2.0475, 3.4944, 3.549, 3.6036, 4.8594, 4.9686, 5.46],
                "range": ["#000080", "#0000ff", "#0000ff", "#00dbff", "#00e6f7", "#15ffe2", "#efff08", "#f7f500", "#ffec00", "#ff1300", "#e80000", "#800000"], "interpolate": "rgb"}}
          }
        },
        {
          "data": {"name": "middle"},
          "mark": {"type": "rect", "width": 24.6, "height": 21.85, "clip": true},
          "encoding": {
            "color": {"field": "d", "type": "quantitative", "legend": null,
              "scale": {"domain": [0, 0.6006, 0.6825, 1.8564, 1.911, 2.0475, 3.4944, 3.549, 3.6036, 4.8594, 4.9686, 5.46],
                "range": ["#000080", "#0000ff", "#0000ff", "#00dbff", "#00e6f7", "#15ffe2", "#efff08", "#f7f500", "#ffec00", "#ff1300", "#e80000", "#800000"], "interpolate": "rgb"}}
          }
        },
        {
          "data": {"name": "lower"},
          "mark": {"type": "rect", "width": 24.6, "height": 11.2, "clip": true},
          "encoding": {
            "color": {"field": "d", "type": "quantitative", "legend": null,
              "scale": {"domain": [0, 0.6006, 0.6825, 1.8564, 1.911, 2.0475, 3.4944, 3.549, 3.6036, 4.8594, 4.9686, 5.46],
                "range": ["#000080", "#0000ff", "#0000ff", "#00dbff", "#00e6f7", "#15ffe2", "#efff08", "#f7f500", "#ffec00", "#ff1300", "#e80000", "#800000"], "interpolate": "rgb"}}
          }
        },
        {
          "data": {"name": "axisLow"},
          "mark": {"type": "rect", "width": 6.5, "height": 11.2, "clip": true},
          "encoding": {
            "color": {"field": "d", "type": "quantitative", "legend": null,
              "scale": {"domain": [0, 0.6006, 0.6825, 1.8564, 1.911, 2.0475, 3.4944, 3.549, 3.6036, 4.8594, 4.9686, 5.46],
                "range": ["#000080", "#0000ff", "#0000ff", "#00dbff", "#00e6f7", "#15ffe2", "#efff08", "#f7f500", "#ffec00", "#ff1300", "#e80000", "#800000"], "interpolate": "rgb"}}
          }
        },
        {
          "data": {"name": "axisHigh"},
          "mark": {"type": "rect", "width": 6.5, "height": 43.1, "clip": true},
          "encoding": {
            "color": {"field": "d", "type": "quantitative", "legend": null,
              "scale": {"domain": [0, 0.6006, 0.6825, 1.8564, 1.911, 2.0475, 3.4944, 3.549, 3.6036, 4.8594, 4.9686, 5.46],
                "range": ["#000080", "#0000ff", "#0000ff", "#00dbff", "#00e6f7", "#15ffe2", "#efff08", "#f7f500", "#ffec00", "#ff1300", "#e80000", "#800000"], "interpolate": "rgb"}}
          }
        },
        {
          "data": {"name": "needle"},
          "mark": {"type": "rect", "color": "black"},
          "encoding": {"x2": {"field": "r2"}, "y2": {"field": "z2"}}
        },
        {
          "data": {"name": "interface"},
          "mark": {"type": "rule", "color": "black", "strokeWidth": 3.5},
          "encoding": {"x2": {"field": "r2"}}
        },
        {
          "data": {"name": "wall"},
          "mark": {"type": "rule", "color": "black", "strokeWidth": 4.5},
          "encoding": {
            "x": {"field": "r", "type": "quantitative", "scale": {"domain": [0, 0.031], "nice": false, "zero": false},
              "axis": {"orient": "top", "values": [0, 0.005, 0.01, 0.015, 0.02, 0.025, 0.03], "labels": false, "title": null}},
            "y": {"field": "z", "type": "quantitative", "scale": {"domain": [0, 0.0264], "nice": false, "zero": false},
              "axis": {"orient": "right", "values": [0, 0.005, 0.01, 0.015, 0.02, 0.025], "labels": false, "title": null}},
            "y2": {"field": "z2"}
          }
        },
        {
          "data": {"name": "shafts"},
          "mark": {"type": "rule", "color": "black", "strokeWidth": 5, "strokeCap": "butt"},
          "encoding": {"x2": {"field": "r2"}, "y2": {"field": "z2"}}
        },
        {
          "data": {"name": "tips"},
          "transform": [{"filter": "datum.label === 'Symmetry axis'"}],
          "mark": {"type": "point", "shape": "M0,0L14,7L-14,7Z", "size": 4, "angle": 270, "filled": true, "color": "black", "opacity": 1, "strokeWidth": 0}
        },
        {
          "data": {"name": "tips"},
          "transform": [{"filter": "datum.label === 'Needle tip/jet outlet'"}],
          "mark": {"type": "point", "shape": "M0,0L13.5,18L-13.5,18Z", "size": 4, "angle": 210.3, "filled": true, "color": "black", "opacity": 1, "strokeWidth": 0}
        },
        {
          "data": {"name": "tips"},
          "transform": [{"filter": "datum.label === 'Dish wall'"}],
          "mark": {"type": "point", "shape": "M0,0L13,19L-13,19Z", "size": 4, "angle": 139.4, "filled": true, "color": "black", "opacity": 1, "strokeWidth": 0}
        },
        {
          "data": {"name": "tips"},
          "transform": [{"filter": "datum.label === 'Gas-liquid interface'"}],
          "mark": {"type": "point", "shape": "M0,0L14.5,9L-14.5,9Z", "size": 4, "angle": 211, "filled": true, "color": "black", "opacity": 1, "strokeWidth": 0}
        },
        {
          "data": {"name": "labels"},
          "mark": {"type": "text", "align": "left", "baseline": "alphabetic", "font": "Liberation Sans", "fontSize": 24, "color": "black"},
          "encoding": {"text": {"field": "label"}}
        }
      ],
      "resolve": {"axis": {"x": "independent", "y": "independent"}}
    },
    {
      "width": 36,
      "height": 717,
      "view": {"stroke": null},
      "title": {"text": "×10²³", "anchor": "start", "font": "Liberation Serif", "fontSize": 28, "fontWeight": "normal", "color": "black", "offset": 2},
      "data": {"name": "colorbar"},
      "mark": {
        "type": "rect",
        "stroke": "black",
        "strokeWidth": 1.3,
        "fill": {
          "gradient": "linear", "x1": 0, "y1": 1, "x2": 0, "y2": 0,
          "stops": [
            {"offset": 0, "color": "#000080"},
            {"offset": 0.11, "color": "#0000ff"},
            {"offset": 0.125, "color": "#0000ff"},
            {"offset": 0.34, "color": "#00dbff"},
            {"offset": 0.35, "color": "#00e6f7"},
            {"offset": 0.375, "color": "#15ffe2"},
            {"offset": 0.64, "color": "#efff08"},
            {"offset": 0.65, "color": "#f7f500"},
            {"offset": 0.66, "color": "#ffec00"},
            {"offset": 0.89, "color": "#ff1300"},
            {"offset": 0.91, "color": "#e80000"},
            {"offset": 1, "color": "#800000"}
          ]
        }
      },
      "encoding": {
        "y": {"field": "lo", "type": "quantitative", "scale": {"domain": [0, 5.46], "nice": false, "zero": false},
          "axis": {"orient": "right", "values": [0, 0.6, 1.2, 1.8, 2.4, 3.0, 3.6, 4.2, 4.8, 5.4], "format": ".1f",
            "labelPadding": 15, "labelFontSize": 25, "title": "Water Vapor Density (m⁻³)", "titleFontSize": 26, "titleAngle": 270, "titlePadding": 33, "titleY": 376}},
        "y2": {"field": "hi"}
      }
    }
  ],
  "config": {
    "font": "Liberation Sans",
    "axis": {
      "domain": false,
      "grid": false,
      "tickSize": -8,
      "tickWidth": 1.3,
      "tickColor": "black",
      "labelFont": "Liberation Serif",
      "labelFontSize": 26,
      "labelColor": "black",
      "labelFlush": false,
      "labelOverlap": false,
      "titleFont": "Liberation Sans",
      "titleFontSize": 24,
      "titleFontWeight": "normal",
      "titleColor": "black"
    }
  }
}
